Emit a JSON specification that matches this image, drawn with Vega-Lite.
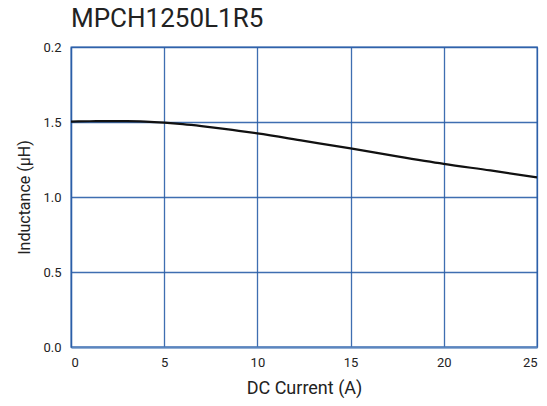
{
  "$schema": "https://vega.github.io/schema/vega-lite/v6.json",
  "width": 466,
  "height": 300,
  "autosize": "none",
  "padding": {"left": 71, "top": 47, "right": 10, "bottom": 59},
  "background": "white",
  "title": {
    "text": "MPCH1250L1R5",
    "anchor": "start",
    "frame": "group",
    "font": "Roboto",
    "fontSize": 26,
    "fontWeight": "normal",
    "color": "#222222",
    "offset": 9
  },
  "data": {
    "values": [
      {"current": 0, "inductance": 1.503},
      {"current": 1, "inductance": 1.505},
      {"current": 2, "inductance": 1.506},
      {"current": 3, "inductance": 1.506},
      {"current": 4, "inductance": 1.503},
      {"current": 5, "inductance": 1.496},
      {"current": 6, "inductance": 1.486},
      {"current": 7, "inductance": 1.473},
      {"current": 8, "inductance": 1.458},
      {"current": 9, "inductance": 1.441},
      {"current": 10, "inductance": 1.424},
      {"current": 12.5, "inductance": 1.374},
      {"current": 15, "inductance": 1.324},
      {"current": 17.5, "inductance": 1.271},
      {"current": 20, "inductance": 1.221},
      {"current": 22.5, "inductance": 1.177},
      {"current": 25, "inductance": 1.131}
    ]
  },
  "mark": {"type": "line", "color": "#111111", "strokeWidth": 2.2, "interpolate": "monotone"},
  "encoding": {
    "x": {
      "field": "current",
      "type": "quantitative",
      "scale": {"domain": [0, 25], "nice": false},
      "axis": {
        "title": "DC Current (A)",
        "values": [0, 5, 10, 15, 20, 25],
        "titleFont": "Roboto",
        "titleFontSize": 18,
        "titleFontWeight": "normal",
        "titleColor": "#222222",
        "titlePadding": 10,
        "labelFont": "Roboto",
        "labelFontSize": 13,
        "labelColor": "#222222",
        "labelPadding": 9,
        "ticks": false,
        "domainColor": "#5b86bf",
        "domainWidth": 2,
        "gridColor": "#2a5ea8",
        "gridOpacity": 0.9,
        "gridWidth": 1.3
      }
    },
    "y": {
      "field": "inductance",
      "type": "quantitative",
      "scale": {"domain": [0, 2], "nice": false},
      "axis": {
        "title": "Inductance (µH)",
        "values": [0, 0.5, 1, 1.5, 2],
        "format": ".1f",
        "labelExpr": "datum.value == 2 ? '0.2' : datum.label",
        "titleFont": "Roboto",
        "titleFontSize": 16,
        "titleFontWeight": "normal",
        "titleColor": "#222222",
        "titlePadding": 10,
        "labelFont": "Roboto",
        "labelFontSize": 13,
        "labelColor": "#222222",
        "labelPadding": 10,
        "ticks": false,
        "domainColor": "#2a5ea8",
        "domainWidth": 1.3,
        "gridColor": "#2a5ea8",
        "gridOpacity": 0.9,
        "gridWidth": 1.3
      }
    }
  },
  "config": {
    "view": {"stroke": "#2a5ea8", "strokeWidth": 1.3}
  }
}
